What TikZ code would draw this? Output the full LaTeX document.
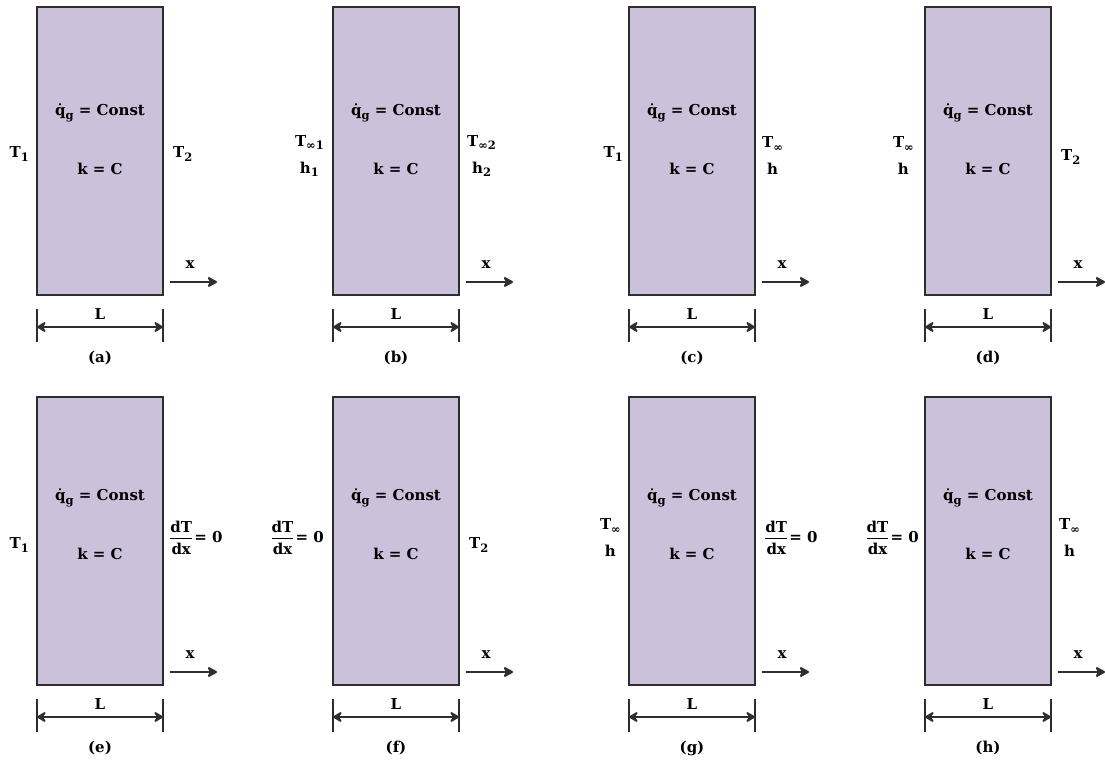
\documentclass[tikz,border=0pt]{standalone}
\usepackage{fontspec}
\setmainfont{DejaVu Serif}
\usetikzlibrary{arrows.meta,calc}
\definecolor{slabfill}{HTML}{CBC1DA}
\definecolor{edge}{HTML}{2E2E2E}
\tikzset{
  x=1pt,y=-1pt,
  slab/.style={draw=edge, fill=slabfill, line width=2pt, minimum width=126pt, minimum height=288pt, inner sep=0pt, outer sep=0pt},
  lab/.style={font=\bfseries\fontsize{15}{27}\selectfont, inner sep=0pt, text=black},
  tick/.style={line width=1.8pt, draw=edge},
  dimar/.style={line width=2pt, draw=edge, {Stealth[length=11pt,width=13pt,inset=4pt,round]}-{Stealth[length=11pt,width=13pt,inset=4pt,round]}},
  xar/.style={line width=2.2pt, draw=edge, -{Stealth[length=12pt,width=13pt,inset=4pt,round]}}
}
\newcommand\sbs[1]{\raisebox{-0.45ex}{\fontsize{11.5}{11.5}\selectfont #1}}
\newcommand\dTdx{$\displaystyle{\hbox{dT}\above 1.4pt \hbox{dx}}$\hspace{1pt}= 0}
\newcommand\plate[6]{%
  \node[slab, anchor=north west] (#1) at (#2,#3) {};
  \node[lab] (#1q) at ($(#1.north)+(0,#5)$) {q̇\sbs{g} = Const};
  \node[lab] (#1k) at ($(#1.north)+(0,#6)$) {k = C};
  \coordinate (#1ta) at ($(#1.south west)+(0,14)$);
  \coordinate (#1ba) at ($(#1.south west)+(0,47)$);
  \coordinate (#1tb) at ($(#1.south east)+(0,14)$);
  \coordinate (#1bb) at ($(#1.south east)+(0,47)$);
  \coordinate (#1da) at ($(#1.south west)+(0,32)$);
  \coordinate (#1db) at ($(#1.south east)+(0,32)$);
  \draw[tick] (#1ta) -- (#1ba);
  \draw[tick] (#1tb) -- (#1bb);
  \draw[dimar] (#1da) -- (#1db);
  \node[lab] (#1L) at ($(#1.south)+(0,19)$) {L};
  \node[lab] (#1cap) at ($(#1.south)+(0,63)$) {(#4)};
  \coordinate (#1xa) at ($(#1.south east)+(7,-13)$);
  \coordinate (#1xb) at ($(#1.south east)+(54,-13)$);
  \draw[xar] (#1xa) -- (#1xb);
  \node[lab] (#1xl) at ($(#1.south east)+(27,-30)$) {x};
}
\begin{document}
\begin{tikzpicture}
\useasboundingbox (0,0) rectangle (1105,762);
% row 1
\plate{pa}{37}{7}{a}{106}{162}
\plate{pb}{333}{7}{b}{106}{162}
\plate{pc}{629}{7}{c}{106}{162}
\plate{pd}{925}{7}{d}{106}{162}
% row 2
\plate{pe}{37}{397}{e}{101}{157}
\plate{pf}{333}{397}{f}{101}{157}
\plate{pg}{629}{397}{g}{101}{157}
\plate{ph}{925}{397}{h}{101}{157}
% (a)
\node[lab, anchor=east] (paL1) at ($(pa.north west)+(-8,147)$) {T\sbs{1}};
\node[lab, anchor=west] (paR1) at ($(pa.north east)+(10,147)$) {T\sbs{2}};
% (b)
\node[lab, anchor=east, align=center] (pbL1) at ($(pb.north west)+(-9,149)$) {T\sbs{∞1}\\h\sbs{1}};
\node[lab, anchor=west, align=center] (pbR1) at ($(pb.north east)+(8,149)$) {T\sbs{∞2}\\h\sbs{2}};
% (c)
\node[lab, anchor=east] (pcL1) at ($(pc.north west)+(-6,147)$) {T\sbs{1}};
\node[lab, anchor=west, align=center] (pcR1) at ($(pc.north east)+(7,149)$) {T\sbs{∞}\\h};
% (d)
\node[lab, anchor=east, align=center] (pdL1) at ($(pd.north west)+(-11,149)$) {T\sbs{∞}\\h};
\node[lab, anchor=west] (pdR1) at ($(pd.north east)+(10,150)$) {T\sbs{2}};
% (e)
\node[lab, anchor=east] (peL1) at ($(pe.north west)+(-8,148)$) {T\sbs{1}};
\node[lab, anchor=west] (peR1) at ($(pe.north east)+(6,141)$) {\dTdx};
% (f)
\node[lab, anchor=east] (pfL1) at ($(pf.north west)+(-9,141)$) {\dTdx};
\node[lab, anchor=west] (pfR1) at ($(pf.north east)+(10,148)$) {T\sbs{2}};
% (g)
\node[lab, anchor=east, align=center] (pgL1) at ($(pg.north west)+(-8,141)$) {T\sbs{∞}\\h};
\node[lab, anchor=west] (pgR1) at ($(pg.north east)+(9,141)$) {\dTdx};
% (h)
\node[lab, anchor=east] (phL1) at ($(ph.north west)+(-6,141)$) {\dTdx};
\node[lab, anchor=west, align=center] (phR1) at ($(ph.north east)+(8,141)$) {T\sbs{∞}\\h};
\end{tikzpicture}
\end{document}
